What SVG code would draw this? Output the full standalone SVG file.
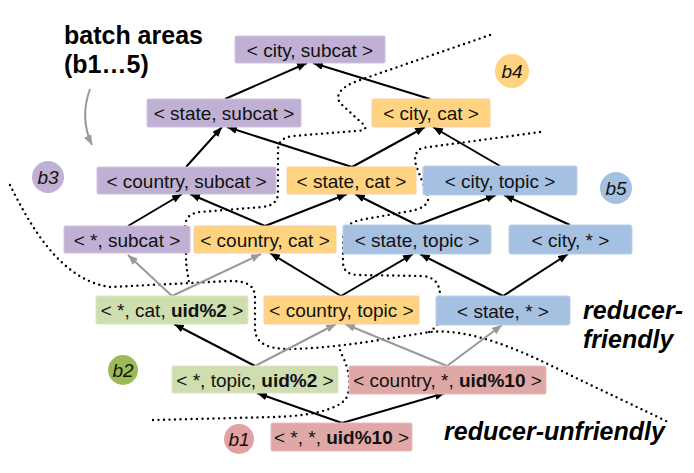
<svg xmlns="http://www.w3.org/2000/svg" width="694" height="473" viewBox="0 0 694 473">
<defs>
<marker id="ab" markerUnits="userSpaceOnUse" markerWidth="11" markerHeight="9" refX="10" refY="4" orient="auto"><path d="M0,0 L10,4 L0,8 z" fill="#000"/></marker>
<marker id="ag" markerUnits="userSpaceOnUse" markerWidth="11" markerHeight="9" refX="10" refY="4" orient="auto"><path d="M0,0 L10,4 L0,8 z" fill="#999"/></marker>
<style>
.n text{font-family:"Liberation Sans",Arial,sans-serif;font-size:19px;fill:#111;text-anchor:middle}
.n .b{font-weight:bold}
.pu{fill:#BFB0D4;stroke:#CFC3E0;stroke-width:1}
.or{fill:#FFD37F;stroke:#F8CBAD;stroke-width:1}
.bl{fill:#A5C0E0;stroke:#B8CFE8;stroke-width:1}
.gr{fill:#CEDEAF;stroke:#DCE7C6;stroke-width:1}
.rd{fill:#E0A7A7;stroke:#E8BDBD;stroke-width:1}
.k{stroke:#000;stroke-width:2;fill:none;marker-end:url(#ab)}
.g{stroke:#999;stroke-width:2;fill:none;marker-end:url(#ag)}
.dot{stroke:#000;stroke-width:2.4;fill:none;stroke-dasharray:0 5.5;stroke-linecap:round}
.lbl{font-family:"Liberation Sans",Arial,sans-serif;font-size:25px;font-weight:bold;fill:#000}
.bc text{font-family:"Liberation Sans",Arial,sans-serif;font-size:19px;font-style:italic;fill:#111;text-anchor:middle}
</style>
</defs>
<rect width="694" height="473" fill="#fff"/>

<g id="dotted">
<path class="dot" d="M10,185 C30,225 60,280 110,287 L230,281 C248,281 255,286 255,298 L255,328 C255,342 265,349 290,349 C340,348 390,338 430,332 C470,328 520,350 560,370 C600,390 640,408 670,423"/>
<path class="dot" d="M153,420 L273,417 C310,416 335,410 345,400 C352,390 350,370 342,355 L340,350"/>
<path class="dot" d="M540,132 L422,148 C414,152 414,160 417,168 L428,196 C430,205 420,210 405,212 L360,220 C347,223 343,230 343,240 L343,262 C343,272 350,275 360,275 L423,276 C435,277 440,285 440,295 L440,315 C440,325 432,330 428,333"/>
<path class="dot" d="M490,35 L360,80 C340,87 335,95 340,103 L363,124 C368,128 365,131 355,131 L293,136 C283,137 278,142 278,150 L278,192 C278,202 272,206 262,207 L200,212 C190,213 185,218 185,228 L186,255 C186,268 188,275 189,283"/>
</g>

<g id="title">
<text class="lbl" x="64" y="44">batch areas</text>
<text class="lbl" x="64" y="73">(b1…5)</text>
<path d="M90,89 C83,108 84,128 92,145" stroke="#999" stroke-width="2" fill="none" marker-end="url(#ag)"/>
</g>

<g id="labels">
<text class="lbl" x="583" y="319" font-style="italic">reducer-</text>
<text class="lbl" x="583" y="348" font-style="italic">friendly</text>
<text class="lbl" x="444" y="440" font-style="italic">reducer-unfriendly</text>
</g>

<g id="batches" class="bc">
<g id="b3"><circle cx="48" cy="177" r="16" fill="#BFB0D4"/><text x="48" y="183.5">b3</text></g>
<g id="b4"><circle cx="512" cy="71" r="17" fill="#FFD37F"/><text x="512" y="77.5">b4</text></g>
<g id="b5"><circle cx="616" cy="188" r="16" fill="#A5C0E0"/><text x="616" y="194.5">b5</text></g>
<g id="b2"><circle cx="123" cy="370" r="15" fill="#9CBB58"/><text x="123" y="376.5">b2</text></g>
<g id="b1"><circle cx="239" cy="439" r="15" fill="#E3A1A1"/><text x="239" y="445.5">b1</text></g>
</g>

<g id="connectors">
<line class="k" x1="225" y1="99" x2="307" y2="63"/>
<line class="k" x1="430" y1="99" x2="313" y2="63"/>
<line class="k" x1="186" y1="167" x2="222" y2="127"/>
<line class="k" x1="352" y1="167" x2="227" y2="127"/>
<line class="k" x1="352" y1="167" x2="425" y2="127"/>
<line class="k" x1="500" y1="166" x2="433" y2="127"/>
<line class="k" x1="128" y1="226" x2="182" y2="194"/>
<line class="k" x1="265" y1="226" x2="190" y2="194"/>
<line class="k" x1="265" y1="226" x2="347" y2="194"/>
<line class="k" x1="417" y1="225" x2="355" y2="194"/>
<line class="k" x1="417" y1="225" x2="496" y2="195"/>
<line class="k" x1="570" y1="225" x2="504" y2="195"/>
<line class="k" x1="341" y1="296" x2="270" y2="253"/>
<line class="k" x1="341" y1="296" x2="413" y2="254"/>
<line class="k" x1="503" y1="296" x2="420" y2="254"/>
<line class="k" x1="503" y1="296" x2="568" y2="254"/>
<line class="g" x1="172" y1="296" x2="128" y2="255"/>
<line class="g" x1="172" y1="296" x2="261" y2="254"/>
<line class="k" x1="255" y1="366" x2="174" y2="324"/>
<line class="g" x1="255" y1="366" x2="336" y2="324"/>
<line class="g" x1="447" y1="366" x2="345" y2="324"/>
<line class="g" x1="447" y1="366" x2="502" y2="325"/>
<line class="k" x1="342" y1="423" x2="257" y2="393"/>
<line class="k" x1="342" y1="423" x2="445" y2="393"/>
</g>

<g id="city_subcat" class="n"><rect class="pu" x="235" y="36" width="150" height="27" rx="1.5"/><text x="310" y="56.5">&lt; city, subcat &gt;</text></g>
<g id="state_subcat" class="n"><rect class="pu" x="147" y="99" width="154" height="28" rx="1.5"/><text x="224" y="120">&lt; state, subcat &gt;</text></g>
<g id="city_cat" class="n"><rect class="or" x="372" y="99" width="118" height="28" rx="1.5"/><text x="431" y="120">&lt; city, cat &gt;</text></g>
<g id="country_subcat" class="n"><rect class="pu" x="97" y="167" width="179" height="27" rx="1.5"/><text x="186.5" y="187.5">&lt; country, subcat &gt;</text></g>
<g id="state_cat" class="n"><rect class="or" x="287" y="167" width="129" height="27" rx="1.5"/><text x="351.5" y="187.5">&lt; state, cat &gt;</text></g>
<g id="city_topic" class="n"><rect class="bl" x="423" y="166" width="154" height="29" rx="2"/><text x="500" y="187.5">&lt; city, topic &gt;</text></g>
<g id="star_subcat" class="n"><rect class="pu" x="64" y="226" width="126" height="27" rx="1.5"/><text x="127" y="246.5">&lt; *, subcat &gt;</text></g>
<g id="country_cat" class="n"><rect class="or" x="194" y="226" width="142" height="27" rx="1.5"/><text x="265" y="246.5">&lt; country, cat &gt;</text></g>
<g id="state_topic" class="n"><rect class="bl" x="343" y="225" width="148" height="29" rx="2"/><text x="417" y="246.5">&lt; state, topic &gt;</text></g>
<g id="city_star" class="n"><rect class="bl" x="509" y="225" width="123" height="29" rx="2"/><text x="570.5" y="246.5">&lt; city, * &gt;</text></g>
<g id="star_cat_uid2" class="n"><rect class="gr" x="96" y="296" width="152" height="28" rx="1.5"/><text x="172" y="317">&lt; *, cat, <tspan class="b">uid%2</tspan> &gt;</text></g>
<g id="country_topic" class="n"><rect class="or" x="264" y="296" width="155" height="28" rx="1.5"/><text x="341.5" y="317">&lt; country, topic &gt;</text></g>
<g id="state_star" class="n"><rect class="bl" x="436" y="296" width="134" height="29" rx="2"/><text x="503" y="317.5">&lt; state, * &gt;</text></g>
<g id="star_topic_uid2" class="n"><rect class="gr" x="172" y="366" width="166" height="27" rx="1.5"/><text x="255" y="386.5">&lt; *, topic, <tspan class="b">uid%2</tspan> &gt;</text></g>
<g id="country_star_uid10" class="n"><rect class="rd" x="349" y="366" width="197" height="28" rx="1.5"/><text x="447.5" y="387">&lt; country, *, <tspan class="b">uid%10</tspan> &gt;</text></g>
<g id="star_star_uid10" class="n"><rect class="rd" x="271" y="423" width="141" height="28" rx="1.5"/><text x="341.5" y="444">&lt; *, *, <tspan class="b">uid%10</tspan> &gt;</text></g>
</svg>
